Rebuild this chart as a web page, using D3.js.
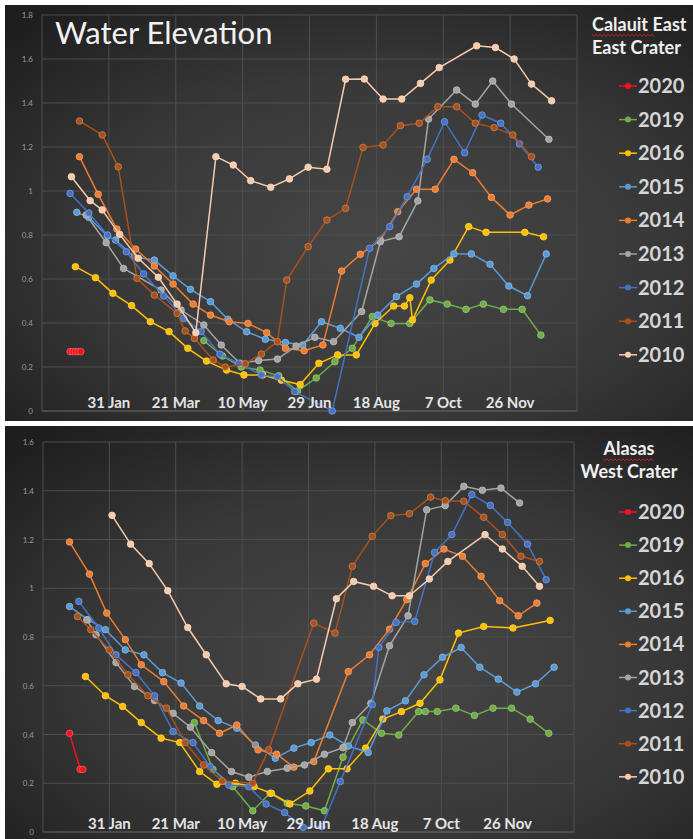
<!DOCTYPE html>
<html lang="en">
<head>
<meta charset="utf-8">
<title>Water Elevation</title>
<script src="https://d3js.org/d3.v7.min.js"></script>
<style>
  body { margin: 0; background: #fff; }
  svg { display: block; font-family: Lato, "Open Sans", sans-serif; }
  .ytick { font-size: 8px; fill: #9a9a9a; }
  .dlabel { font-size: 15px; font-weight: bold; fill: #e4e4e4; }
  .leg { font-size: 20px; font-weight: bold; fill: #d6d6d6; }
  .ltitle { font-size: 18px; font-weight: bold; fill: #f0f0f0; }
</style>
</head>
<body>
<svg width="693" height="839"></svg>
<script>
// series order as in the legend
const years = ["2020", "2019", "2016", "2015", "2014", "2013", "2012", "2011", "2010"];
const colors = ["#ee1520", "#70ad47", "#ffc000", "#5b9bd5", "#ed7d31", "#a5a5a5", "#4472c4", "#a9501b", "#f8cbad"];

const dateTickLabels = ["31 Jan", "21 Mar", "10 May", "29 Jun", "18 Aug", "7 Oct", "26 Nov"];
const yTicksEast = [0, 0.2, 0.4, 0.6, 0.8, 1, 1.2, 1.4, 1.6, 1.8];
const yTicksWest = [0, 0.2, 0.4, 0.6, 0.8, 1, 1.2, 1.4, 1.6];

// [day of 2020, elevation]  -- Calauit East / East Crater
const east2020 = [[2,0.27],[4,0.27],[6,0.27],[8,0.27],[10,0.27]];
const east2019 = [[102,0.32],[116,0.25],[130,0.20],[144,0.186],[158,0.16],[172,0.09],[186,0.15],[200,0.224],[213,0.285],[228,0.429],[242,0.398],[256,0.398],[271,0.505],[284,0.486],[298,0.462],[311,0.486],[326,0.462],[340,0.462],[354,0.345]];
const east2016 = [[6,0.656],[21,0.606],[34,0.535],[48,0.479],[62,0.406],[76,0.361],[90,0.285],[104,0.227],[119,0.186],[132,0.164],[146,0.164],[160,0.14],[174,0.12],[188,0.217],[202,0.255],[216,0.255],[230,0.398],[244,0.477],[252,0.477],[256,0.515],[258,0.414],[272,0.595],[286,0.686],[300,0.838],[313,0.812],[342,0.812],[356,0.792]];
const east2015 = [[7,0.903],[16,0.88],[30,0.795],[36,0.777],[50,0.70],[65,0.686],[79,0.614],[92,0.553],[107,0.497],[120,0.417],[134,0.36],[148,0.326],[163,0.311],[176,0.30],[190,0.406],[204,0.376],[218,0.335],[232,0.436],[246,0.52],[261,0.577],[274,0.648],[289,0.714],[302,0.714],[316,0.667],[330,0.568],[344,0.524],[358,0.714]];
const east2014 = [[9,1.156],[23,0.985],[37,0.827],[51,0.736],[65,0.659],[79,0.577],[94,0.486],[107,0.436],[121,0.406],[135,0.398],[149,0.356],[163,0.285],[177,0.274],[191,0.30],[205,0.636],[219,0.712],[234,0.777],[247,0.906],[261,1.008],[275,1.008],[289,1.144],[303,1.083],[317,0.971],[331,0.891],[345,0.936],[359,0.964]];
const east2013 = [[14,0.891],[29,0.765],[42,0.648],[70,0.55],[85,0.459],[102,0.391],[115,0.30],[129,0.217],[143,0.229],[157,0.236],[171,0.295],[185,0.335],[199,0.315],[220,0.452],[234,0.77],[248,0.792],[262,0.955],[270,1.327],[291,1.459],[305,1.395],[318,1.50],[332,1.395],[360,1.235]];
const east2012 = [[2,0.989],[16,0.90],[30,0.80],[44,0.724],[57,0.623],[72,0.523],[87,0.421],[100,0.361],[114,0.258],[128,0.217],[145,0.164],[157,0.156],[170,0.088],[198,0.0],[226,0.74],[241,0.838],[254,0.974],[269,1.144],[282,1.315],[297,1.174],[310,1.345],[324,1.308],[338,1.214],[352,1.108]];
const east2011 = [[9,1.318],[26,1.255],[38,1.11],[52,0.603],[65,0.527],[82,0.444],[88,0.364],[95,0.33],[109,0.232],[118,0.20],[133,0.215],[145,0.259],[157,0.315],[164,0.595],[180,0.747],[194,0.868],[208,0.921],[221,1.198],[236,1.209],[249,1.297],[263,1.308],[277,1.383],[291,1.383],[305,1.308],[319,1.288],[333,1.255],[347,1.156]];
const east2010 = [[3,1.065],[17,0.956],[26,0.914],[39,0.803],[53,0.694],[68,0.608],[82,0.486],[96,0.356],[111,1.156],[124,1.118],[137,1.047],[152,1.017],[166,1.055],[180,1.108],[194,1.099],[208,1.508],[222,1.509],[236,1.418],[250,1.418],[264,1.489],[278,1.561],[306,1.66],[320,1.652],[334,1.60],[347,1.486],[362,1.41]];

// Alasas / West Crater
const west2020 = [[1,0.405],[9,0.257],[11,0.257]];
const west2019 = [[95,0.449],[109,0.257],[124,0.186],[139,0.087],[152,0.159],[165,0.118],[179,0.107],[193,0.087],[207,0.307],[222,0.46],[236,0.405],[249,0.398],[264,0.494],[269,0.494],[278,0.494],[292,0.508],[306,0.478],[320,0.508],[334,0.508],[348,0.463],[362,0.405]];
const west2016 = [[13,0.638],[28,0.559],[41,0.515],[55,0.449],[70,0.385],[84,0.367],[99,0.248],[112,0.196],[126,0.20],[140,0.186],[153,0.159],[167,0.115],[182,0.168],[196,0.259],[210,0.259],[224,0.344],[237,0.463],[251,0.494],[265,0.528],[280,0.624],[294,0.816],[313,0.843],[335,0.837],[363,0.868]];
const west2015 = [[1,0.925],[15,0.871],[28,0.83],[43,0.747],[57,0.727],[71,0.654],[85,0.611],[99,0.517],[113,0.457],[127,0.426],[141,0.357],[156,0.303],[170,0.344],[183,0.367],[197,0.398],[211,0.353],[226,0.326],[240,0.497],[254,0.538],[268,0.645],[282,0.717],[296,0.757],[310,0.676],[324,0.627],[338,0.574],[352,0.608],[366,0.676]];
const west2014 = [[1,1.19],[16,1.058],[29,0.898],[43,0.789],[55,0.686],[72,0.617],[87,0.517],[102,0.457],[114,0.405],[127,0.439],[143,0.337],[157,0.319],[170,0.266],[185,0.289],[211,0.658],[227,0.727],[242,0.832],[255,0.953],[269,1.101],[283,1.161],[297,1.131],[311,1.049],[325,0.949],[339,0.887],[353,0.939]];
const west2013 = [[14,0.87],[21,0.809],[36,0.695],[50,0.597],[65,0.54],[79,0.487],[92,0.43],[108,0.326],[123,0.248],[136,0.225],[150,0.248],[165,0.262],[178,0.275],[193,0.319],[207,0.346],[214,0.449],[228,0.528],[242,0.764],[256,0.887],[270,1.322],[284,1.339],[298,1.418],[312,1.402],[326,1.411],[340,1.35]];
const west2012 = [[8,0.946],[23,0.837],[36,0.727],[51,0.654],[65,0.559],[79,0.412],[94,0.367],[107,0.268],[121,0.193],[136,0.186],[149,0.115],[163,0.08],[177,0.019],[191,0.022],[205,0.207],[229,0.522],[234,0.757],[247,0.86],[261,0.864],[276,1.147],[289,1.22],[304,1.384],[318,1.34],[331,1.27],[346,1.181],[360,1.035]];
const west2011 = [[7,0.884],[17,0.83],[31,0.747],[45,0.645],[60,0.559],[74,0.508],[88,0.367],[102,0.275],[116,0.209],[139,0.20],[151,0.337],[185,0.857],[201,0.816],[214,1.09],[229,1.213],[243,1.298],[257,1.306],[273,1.374],[284,1.359],[298,1.357],[313,1.291],[327,1.22],[341,1.131],[355,1.11]];
const west2010 = [[33,1.299],[47,1.181],[61,1.101],[75,0.99],[90,0.839],[104,0.727],[119,0.608],[131,0.597],[145,0.546],[160,0.546],[173,0.608],[187,0.627],[202,0.957],[215,1.028],[230,1.008],[244,0.969],[257,0.969],[272,1.038],[286,1.11],[314,1.22],[327,1.161],[342,1.09],[355,1.008]];

const dayZero = new Date(2019, 11, 31);
const toDate = d => d3.timeDay.offset(dayZero, d);
const xStart = new Date(2019, 11, 12);
const xEnd = new Date(2021, 0, 15);
const gridDates = d3.range(9).map(i => d3.timeDay.offset(xStart, i * 50));

const svg = d3.select("svg");

const defs = svg.append("defs");
const grad = defs.append("radialGradient").attr("id", "bg")
    .attr("cx", "55%").attr("cy", "58%").attr("r", "75%");
grad.append("stop").attr("offset", "0%").attr("stop-color", "#474747");
grad.append("stop").attr("offset", "55%").attr("stop-color", "#383838");
grad.append("stop").attr("offset", "100%").attr("stop-color", "#1e1e1e");

function lighter(c) {
    return d3.interpolateRgb(c, "#ffffff")(0.3);
}

function drawPanel(p) {
    const g = svg.append("g");
    g.append("rect")
        .attr("x", 5).attr("y", p.top)
        .attr("width", 688).attr("height", p.height)
        .attr("fill", "url(#bg)");

    const x = d3.scaleTime().domain([xStart, xEnd]).range([p.left, p.right]);
    const y = d3.scaleLinear().domain([0, p.yMax]).range([p.bottom, p.yTop]);

    // grid
    g.selectAll(".hg").data(p.yTicks).enter().append("line")
        .attr("x1", p.left).attr("x2", p.right)
        .attr("y1", d => y(d)).attr("y2", d => y(d))
        .attr("stroke", d => d === 0 ? "#6a6a6a" : "#4f4f4f")
        .attr("stroke-width", 1);
    g.selectAll(".vg").data(gridDates).enter().append("line")
        .attr("x1", d => x(d)).attr("x2", d => x(d))
        .attr("y1", p.yTop).attr("y2", p.bottom)
        .attr("stroke", "#4f4f4f").attr("stroke-width", 1);

    g.selectAll(".ytick").data(p.yTicks).enter().append("text")
        .attr("class", "ytick")
        .attr("x", p.left - 9).attr("y", d => y(d) + 3)
        .attr("text-anchor", "end")
        .text(d => String(+d.toFixed(1)));

    const line = d3.line().x(d => x(toDate(d[0]))).y(d => y(d[1]));

    p.series.forEach((s, i) => {
        const sg = g.append("g");
        sg.append("path")
            .attr("d", line(s))
            .attr("fill", "none")
            .attr("stroke", colors[i])
            .attr("stroke-width", 1.5);
        sg.selectAll("circle").data(s).enter().append("circle")
            .attr("cx", d => x(toDate(d[0])))
            .attr("cy", d => y(d[1]))
            .attr("r", 3.3)
            .attr("fill", colors[i])
            .attr("stroke", lighter(colors[i]))
            .attr("stroke-width", 0.8);
    });

    // date labels sit on top of the data, on the inner grid lines
    g.selectAll(".dlabel").data(dateTickLabels).enter().append("text")
        .attr("class", "dlabel")
        .attr("x", (d, i) => x(gridDates[i + 1]))
        .attr("y", p.bottom - 3)
        .attr("text-anchor", "middle")
        .text(d => d);

    // legend
    const leg = g.selectAll(".legitem").data(years).enter().append("g")
        .attr("transform", (d, i) => `translate(0,${p.legTop + i * p.legStep})`);
    leg.append("line")
        .attr("x1", 619).attr("x2", 637)
        .attr("stroke", (d, i) => colors[i]).attr("stroke-width", 1.5);
    leg.append("circle")
        .attr("cx", 628).attr("r", 3)
        .attr("fill", (d, i) => colors[i]);
    leg.append("text")
        .attr("class", "leg")
        .attr("x", 638).attr("y", 7)
        .text(d => d);

    // legend title with spell-check squiggle
    p.titleLines.forEach((t, i) => {
        g.append("text")
            .attr("class", "ltitle")
            .attr("x", p.titleX).attr("y", p.titleY + i * 23)
            .attr("text-anchor", p.titleAnchor)
            .text(t);
    });
    const sq = d3.range(0, p.squiggle[1] - p.squiggle[0], 2)
        .map((v, i) => [p.squiggle[0] + v, p.squiggle[2] + (i % 2 ? 1.2 : -0.6)]);
    g.append("path")
        .attr("d", d3.line()(sq))
        .attr("fill", "none").attr("stroke", "#d42020").attr("stroke-width", 0.9);

    return x;
}

const xTop = drawPanel({
    top: 5, height: 416, left: 42, right: 577, yTop: 15, bottom: 411,
    yMax: 1.8, yTicks: yTicksEast,
    series: [east2020, east2019, east2016, east2015, east2014, east2013, east2012, east2011, east2010],
    legTop: 86, legStep: 33.6,
    titleLines: ["Calauit East", "East Crater"], titleX: 592, titleY: 31, titleAnchor: "start",
    squiggle: [592, 656, 35]
});

// original axis labels, cut off by the panel edge
svg.append("g").selectAll("text").data(gridDates).enter().append("text")
    .attr("x", d => xTop(d)).attr("y", 428)
    .attr("text-anchor", "middle")
    .attr("font-size", 9).attr("fill", "#bdbdbd")
    .text(d3.timeFormat("%-m/%-d/%Y"));

svg.append("rect").attr("x", 0).attr("y", 421).attr("width", 693).attr("height", 5).attr("fill", "#fff");

drawPanel({
    top: 426, height: 413, left: 43, right: 574, yTop: 442, bottom: 832,
    yMax: 1.6, yTicks: yTicksWest,
    series: [west2020, west2019, west2016, west2015, west2014, west2013, west2012, west2011, west2010],
    legTop: 512, legStep: 33.1,
    titleLines: ["Alasas", "West Crater"], titleX: 629, titleY: 455, titleAnchor: "middle",
    squiggle: [603, 655, 459.5]
});

svg.append("text")
    .attr("x", 55).attr("y", 44)
    .attr("font-size", 31).attr("fill", "#f2f2f2")
    .text("Water Elevation");
</script>
</body>
</html>
